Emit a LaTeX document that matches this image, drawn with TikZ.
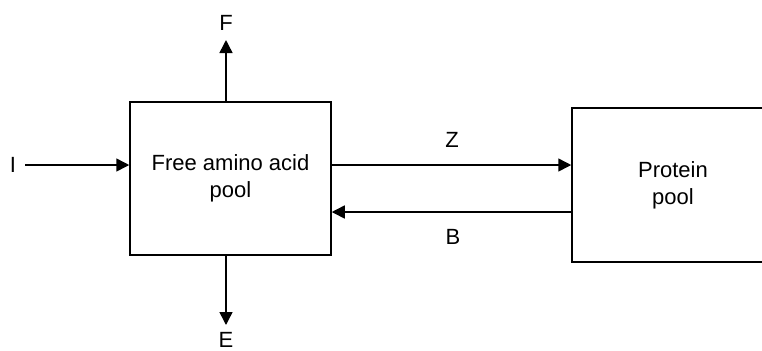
\documentclass[tikz,border=0pt]{standalone}
\usepackage{fontspec}
\setmainfont{Liberation Sans}
\usetikzlibrary{arrows.meta}

\begin{document}
\begin{tikzpicture}[x=.5pt,y=-.5pt,line width=.75pt,
  pool/.style={draw,rectangle,align=center,minimum width=100.5pt,minimum height=76.5pt,
    font=\fontsize{11}{13.5}\selectfont},
  lbl/.style={inner sep=1pt,font=\fontsize{11}{12}\selectfont},
  flow/.style={-{Triangle[length=6.5pt,width=6.5pt]}}]
\useasboundingbox (0,0) rectangle (762,350);
\clip (0,0) rectangle (762,350);
\node[pool] (free) at (230.5,178.5) {Free amino acid\\pool};
\node[pool,minimum width=101pt,minimum height=77pt] (prot) at (673,185) {Protein\\pool};

\node[lbl] (lI) at (13,165) {I};
\node[lbl] (lF) at (226,23) {F};
\node[lbl] (lE) at (226,340) {E};
\node[lbl] (lZ) at (452,140) {Z};
\node[lbl] (lB) at (453,237) {B};

\coordinate (iin) at (25,165);
\coordinate (fout) at (226,40);
\coordinate (eout) at (226,325);

\draw[flow] (iin) -- (free.west |- iin);
\draw[flow] (free.north -| fout) -- (fout);
\draw[flow] (free.south -| eout) -- (eout);
\draw[flow] (free.east |- iin) -- (prot.west |- iin);
\draw[flow] ([yshift=-13.5pt]prot.west) -- ([yshift=-13.5pt]prot.west -| free.east);
\end{tikzpicture}
\end{document}
